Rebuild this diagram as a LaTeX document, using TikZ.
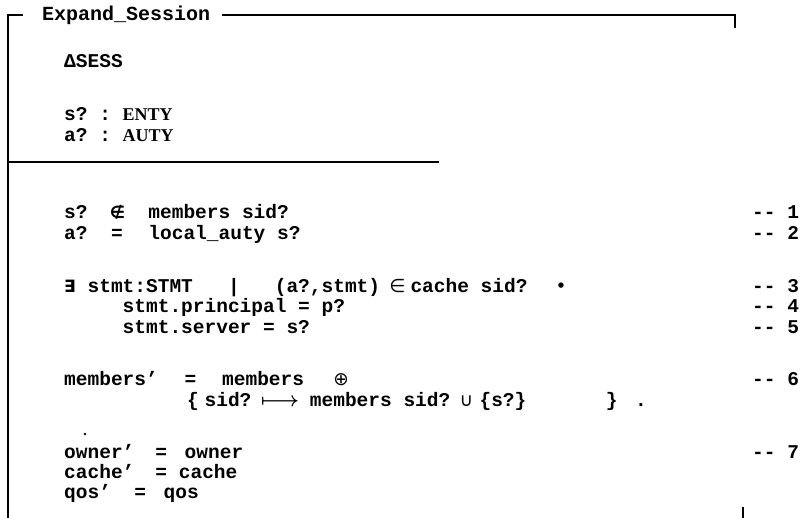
\documentclass[tikz,border=0pt]{standalone}
\usepackage{fontspec}
\setmainfont{Liberation Mono}
\newfontfamily\zser{Liberation Serif}
\newfontfamily\zsym{DejaVu Sans}
\begin{document}
\begin{tikzpicture}[x=1pt,y=-1pt,
  frame/.style={line width=1.4pt},
  tok/.style={anchor=base west,inner sep=0pt,font=\fontsize{19.5}{19.5}\selectfont\bfseries\boldmath},
  symtok/.style={anchor=base west,inner sep=0pt,font=\fontsize{18.5}{18.5}\selectfont\zsym},
  sertok/.style={anchor=base west,inner sep=0pt,font=\fontsize{18}{18}\selectfont\zser\bfseries},
  num/.style={anchor=base west,inner sep=0pt,font=\fontsize{19.5}{19.5}\selectfont\bfseries},
  titlebox/.style={anchor=base west,inner sep=0pt,font=\fontsize{20}{20}\selectfont\bfseries}]
\useasboundingbox (0,0) rectangle (804,518);
\def\c#1{64+#1*11.7}
% frame
\coordinate (tl) at (8,15);
\coordinate (bl) at (8,518);
\coordinate (tr) at (735,15);
\coordinate (trt) at (735,28);
\coordinate (dl) at (8,162);
\coordinate (dr) at (439,162);
\coordinate (bt1) at (743,507);
\coordinate (bt2) at (743,518);
\node[titlebox] (title) at (42,21) {Expand\_Session};
\coordinate (ta) at (23,15);
\coordinate (tb) at (222,15);
\draw[frame] (bl) -- (tl) -- (ta);
\draw[frame] (tb) -- (tr) -- (trt);
\draw[frame] (dl) -- (dr);
\draw[line width=1.2pt] (bt1) -- (bt2);
% declarations
\node[tok] (delta) at ({\c{0}},68) {ΔSESS};
\node[tok] (s1) at ({\c{0}},121) {s?};
\node[tok] (s1c) at ({\c{3}},121) {:};
\node[sertok] (s1t) at ({\c{5}},121) {ENTY};
\node[tok] (a1) at ({\c{0}},142) {a?};
\node[tok] (a1c) at ({\c{3}},142) {:};
\node[sertok] (a1t) at ({\c{5}},142) {AUTY};
% predicates
\node[tok] (r1a) at ({\c{0}},219) {s?};
\node[symtok,font=\fontsize{17}{17}\selectfont\zsym\bfseries] (r1b) at ({\c{3.9}},219) {∉};
\node[tok] (r1c) at ({\c{7.2}},219) {members sid?};
\node[tok] (r2a) at ({\c{0}},240) {a?};
\node[tok] (r2b) at ({\c{4}},240) {=};
\node[tok] (r2c) at ({\c{7.2}},240) {local\_auty s?};
\node[symtok,font=\fontsize{17}{17}\selectfont\zsym\bfseries] (r3a) at ({\c{0}},293) {∃};
\node[tok] (r3b) at ({\c{2}},293) {stmt:STMT};
\node[tok] (r3c) at ({\c{14}},293) {|};
\node[tok] (r3d) at ({\c{18}},293) {(a?,stmt)};
\node[symtok] (r3e) at ({\c{27.8}},293) {∈};
\node[tok] (r3f) at ({\c{29.6}},293) {cache sid?};
\node[symtok] (r3g) at ({\c{42}},293) {•};
\node[tok] (r4a) at ({\c{5}},313) {stmt.principal};
\node[tok] (r4b) at ({\c{20}},313) {=};
\node[tok] (r4c) at ({\c{22}},313) {p?};
\node[tok] (r5a) at ({\c{5}},334) {stmt.server};
\node[tok] (r5b) at ({\c{17}},334) {=};
\node[tok] (r5c) at ({\c{19}},334) {s?};
\node[tok] (r6a) at ({\c{0}},386) {members'};
\node[tok] (r6b) at ({\c{10.3}},386) {=};
\node[tok] (r6c) at ({\c{13.5}},386) {members};
\node[symtok] (r6d) at ({\c{23}},386) {⊕};
\node[tok] (r7a) at ({\c{10.5}},407) {\{};
\node[tok] (r7b) at ({\c{12}},407) {sid?};
\node[tok] (r7c) at ({\c{16.8}},407) {$\longmapsto$};
\node[tok] (r7d) at ({\c{21}},407) {members sid?};
\node[symtok] (r7e) at ({\c{33.8}},407) {∪};
\node[tok] (r7f) at ({\c{35.5}},407) {\{s?\}};
\node[tok] (r7g) at ({\c{46.3}},407) {\}};
\node[tok] (r7h) at ({\c{48.8}},407) {.};
\fill (85,434) circle (1.3);
\node[tok] (r8a) at ({\c{0}},459) {owner'};
\node[tok] (r8b) at ({\c{7.8}},459) {=};
\node[tok] (r8c) at ({\c{10.3}},459) {owner};
\node[tok] (r9a) at ({\c{0}},479) {cache'};
\node[tok] (r9b) at ({\c{7.8}},479) {=};
\node[tok] (r9c) at ({\c{9.8}},479) {cache};
\node[tok] (r10a) at ({\c{0}},499) {qos'};
\node[tok] (r10b) at ({\c{6}},499) {=};
\node[tok] (r10c) at ({\c{8.5}},499) {qos};
% line numbers
\node[num] (n1) at (752,219) {-{}- 1};
\node[num] (n2) at (752,240) {-{}- 2};
\node[num] (n3) at (752,293) {-{}- 3};
\node[num] (n4) at (752,313) {-{}- 4};
\node[num] (n5) at (752,334) {-{}- 5};
\node[num] (n6) at (752,386) {-{}- 6};
\node[num] (n7) at (752,459) {-{}- 7};
\end{tikzpicture}
\end{document}
